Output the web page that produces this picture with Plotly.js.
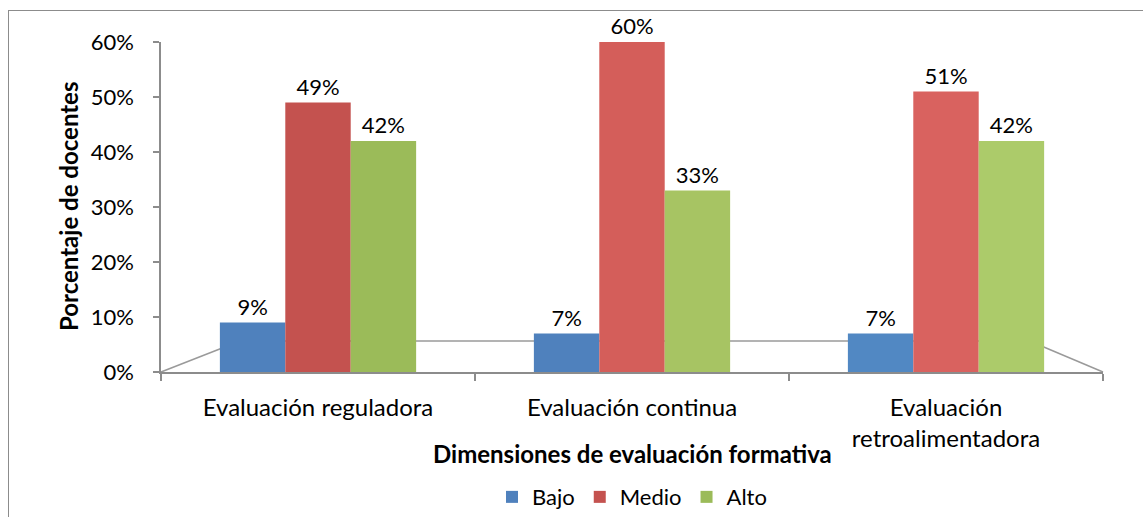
<!DOCTYPE html>
<html>
<head>
<meta charset="utf-8">
<script src="https://cdn.plot.ly/plotly-3.0.1.min.js"></script>
<style>
  html, body { margin:0; padding:0; background:#fff; overflow:hidden; }
  #frame { position:absolute; left:8px; top:10px; width:1300px; height:700px; border:1px solid #8c8c8c; box-sizing:border-box; }
  #chart { position:absolute; left:0; top:0; width:1143px; height:517px; }
</style>
</head>
<body>
<div id="frame"></div>
<div id="chart"></div>
<script>
const categories = ['Evaluación reguladora', 'Evaluación continua', 'Evaluación<br>retroalimentadora'];
const seriesNames = ['Bajo', 'Medio', 'Alto'];
const bajo  = [9, 7, 7];
const medio = [49, 60, 51];
const alto  = [42, 33, 42];
const yTicks = [0, 10, 20, 30, 40, 50, 60];
const yTickLabels = ['0%', '10%', '20%', '30%', '40%', '50%', '60%'];

const FONT = 'Lato, "Noto Sans", sans-serif';
const colors = {
  Bajo:  ['#4F81BD', '#4F81BD', '#5188C3'],
  Medio: ['#C4524F', '#D45E5A', '#D9625F'],
  Alto:  ['#9BBB59', '#A7C463', '#ACCB6A']
};

function mkTrace(name, vals) {
  return {
    type: 'bar',
    name: name,
    x: categories,
    y: vals,
    text: vals.map(v => v + '%'),
    textposition: 'outside',
    cliponaxis: false,
    textfont: { family: FONT, size: 22, color: '#000' },
    marker: { color: colors[name], line: { width: 0 } },
    hoverinfo: 'x+y+name'
  };
}

const data = [mkTrace('Bajo', bajo), mkTrace('Medio', medio), mkTrace('Alto', alto)];

const layout = {
  width: 1143, height: 517,
  margin: { l: 161, r: 40, t: 42, b: 145, autoexpand: false },
  paper_bgcolor: 'rgba(0,0,0,0)',
  plot_bgcolor: 'rgba(0,0,0,0)',
  font: { family: FONT, size: 22, color: '#000' },
  barmode: 'group',
  bargap: 0.375,
  bargroupgap: 0,
  showlegend: true,
  legend: {
    orientation: 'h', x: 0.5, xanchor: 'center', y: -0.379, yanchor: 'middle',
    font: { family: FONT, size: 22, color: '#000' },
    itemwidth: 30, traceorder: 'normal', tracegroupgap: 0
  },
  xaxis: {
    type: 'category',
    range: [-0.5, 2.5],
    automargin: false,
    showline: true, linecolor: '#8c8c8c', linewidth: 1.5,
    ticks: 'outside', ticklen: 7, tickcolor: '#8c8c8c', tickwidth: 1.5,
    tickson: 'boundaries',
    tickfont: { family: FONT, size: 24, color: '#000' },
    ticklabelstandoff: 13,
    showgrid: false, zeroline: false, fixedrange: true
  },
  yaxis: {
    range: [0, 60],
    automargin: false,
    tickvals: yTicks, ticktext: yTickLabels,
    showline: true, linecolor: '#8c8c8c', linewidth: 1.5,
    ticks: 'outside', ticklen: 6, tickcolor: '#8c8c8c', tickwidth: 1.5,
    tickfont: { family: FONT, size: 22, color: '#000' },
    ticklabelstandoff: 15,
    showgrid: false, zeroline: false, fixedrange: true
  },
  shapes: [
    { type: 'line', xref: 'paper', yref: 'paper', layer: 'below', x0: 0, y0: 0, x1: 0.084, y1: 0.094, line: { color: '#9a9a9a', width: 1.5 } },
    { type: 'line', xref: 'paper', yref: 'paper', layer: 'below', x0: 0.084, y0: 0.094, x1: 0.922, y1: 0.094, line: { color: '#9a9a9a', width: 1.5 } },
    { type: 'line', xref: 'paper', yref: 'paper', layer: 'below', x0: 0.922, y0: 0.094, x1: 1, y1: 0, line: { color: '#9a9a9a', width: 1.5 } }
  ],
  annotations: [
    { text: '<b>Dimensiones de evaluación formativa</b>', xref: 'paper', yref: 'paper',
      x: 0.50, y: -0.2455, xanchor: 'center', yanchor: 'middle', showarrow: false,
      font: { family: FONT, size: 24, color: '#000' } },
    { text: '<b>Porcentaje de docentes</b>', xref: 'paper', yref: 'paper',
      x: -0.0987, y: 0.5, xanchor: 'center', yanchor: 'middle', showarrow: false, textangle: -90,
      font: { family: FONT, size: 24, color: '#000' } }
  ]
};

Plotly.newPlot('chart', data, layout, { displayModeBar: false });
</script>
</body>
</html>
